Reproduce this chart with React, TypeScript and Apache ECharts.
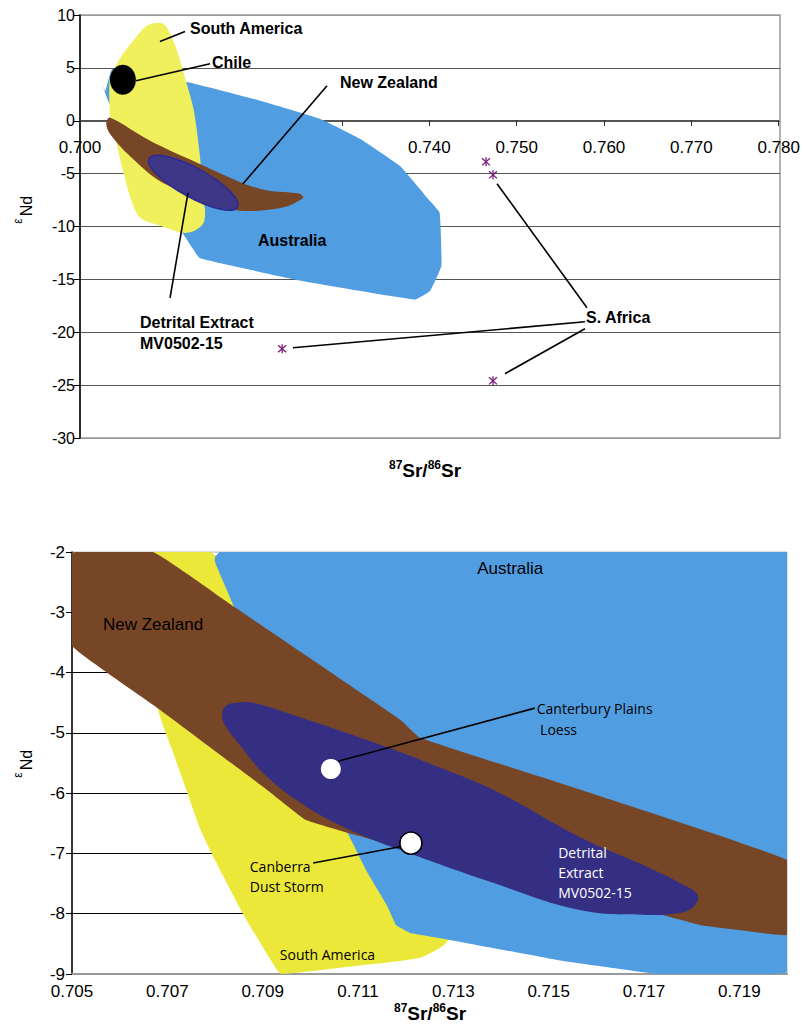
import React, { useEffect, useRef } from "react";
import * as echarts from "echarts";

// ---------- Upper panel: full-range 87Sr/86Sr vs εNd ----------
const australiaWide: number[][] = [
  [0.7029, 2.8], [0.7037, 4.9], [0.7126, 3.6], [0.7206, 1.9], [0.7274, 0.2],
  [0.732, -1.7], [0.7366, -4.3], [0.74, -7.6], [0.7411, -8.7], [0.7413, -13.7],
  [0.74, -16.1], [0.7383, -16.9], [0.7251, -15.1], [0.7137, -13.0], [0.7129, -12.1],
  [0.7114, -10.2], [0.7091, -6.6], [0.7046, 0], [0.7032, 1.9], [0.7026, 3.3],
];
const southAmericaWide: number[][] = [
  [0.7034, 0.8], [0.7034, 4.0], [0.7039, 4.9], [0.7048, 6.2], [0.7061, 7.6],
  [0.7077, 9.0], [0.7095, 9.2], [0.7103, 8.2], [0.7111, 6.6], [0.7122, 3.5],
  [0.713, 1.0], [0.7137, -3.3], [0.7141, -7.6], [0.7143, -8.5], [0.7141, -9.7],
  [0.7131, -10.4], [0.7118, -10.6], [0.7091, -9.9], [0.7069, -9.2], [0.7059, -7.6],
  [0.7048, -4.4], [0.7041, -1.9], [0.7036, -0.5],
];
const newZealandWide: number[][] = [
  [0.7034, 0.3], [0.708, -1.9], [0.7137, -4.1], [0.7186, -5.9], [0.7214, -6.6],
  [0.7251, -6.9], [0.7255, -7.3], [0.7232, -8.2], [0.7183, -8.5], [0.7137, -7.3],
  [0.7091, -5.7], [0.7054, -3.1], [0.7034, -1.2], [0.703, -0.3],
];
// Detrital extract field: ends of the long axis, and short/long axis ratio
const detritalAxisWide: number[][] = [[0.7079, -3.57], [0.718, -8.16]];
const detritalRatioWide = 0.29;
const chileWide: number[][] = [[0.7049, 3.88]];
const southAfricaWide: number[][] = [
  [0.7464, -3.88], [0.7472, -5.11], [0.7231, -21.56], [0.7472, -24.59],
];
// leader lines: [x1, y1, x2, y2]
const leadersWide: number[][] = [
  [0.70914, 7.5, 0.712, 8.44],
  [0.7064, 3.78, 0.71486, 5.39],
  [0.71863, -5.96, 0.72823, 3.31],
  [0.71234, -6.81, 0.71029, -16.74],
  [0.74766, -5.96, 0.75794, -17.68],
  [0.72434, -21.47, 0.75771, -19.01],
  [0.74857, -23.92, 0.75771, -19.67],
];
const labelTextWide = [
  "South America", "Chile", "New Zealand", "Australia",
  "Detrital Extract\nMV0502-15", "S. Africa",
];
const labelPosWide: number[][] = [
  [0.71257, 8.7], [0.71509, 5.48], [0.72971, 3.59], [0.72034, -11.35],
  [0.70686, -20.05], [0.75783, -18.63],
];

// ---------- Lower panel: close-up ----------
const australiaZoom: number[][] = [
  [0.7081, -2.0], [0.72, -2.0], [0.72, -8.97], [0.719, -9.0], [0.7173, -9.0],
  [0.7152, -8.77], [0.7129, -8.43], [0.7121, -8.32], [0.7118, -8.19],
  [0.7116, -7.85], [0.7112, -7.32], [0.7108, -6.69], [0.7098, -5.12],
  [0.7089, -3.79], [0.7084, -2.91], [0.708, -2.17], [0.708, -2.08],
];
const southAmericaZoom: number[][] = [
  [0.7067, -2.0], [0.7079, -2.0], [0.7098, -3.46], [0.7115, -5.45],
  [0.7127, -7.27], [0.7131, -8.19], [0.7128, -8.52], [0.7123, -8.73],
  [0.7108, -8.88], [0.7094, -9.0], [0.7093, -8.93], [0.7086, -8.02],
  [0.708, -7.11], [0.7077, -6.61], [0.7074, -5.95], [0.7071, -5.28],
  [0.7068, -4.59], [0.7067, -3.46],
];
const newZealandZoom: number[][] = [
  [0.70496, -2.02], [0.7067, -2.0], [0.7084, -2.91], [0.7119, -4.79],
  [0.7123, -5.08], [0.7157, -5.95], [0.72, -7.11], [0.72, -7.77],
  [0.72, -8.35], [0.719, -8.27], [0.7182, -8.19], [0.7173, -8.0],
  [0.7152, -7.52], [0.7129, -6.98], [0.7115, -6.81], [0.7108, -6.66],
  [0.7099, -6.44], [0.7091, -5.95], [0.7068, -4.59], [0.705, -3.56],
  [0.70496, -2.8],
];
const detritalZoom: number[][] = [
  [0.70815, -4.67], [0.70825, -4.54], [0.70846, -4.5], [0.7088, -4.5],
  [0.70978, -4.74], [0.71119, -5.12], [0.71257, -5.53], [0.71398, -6.0],
  [0.71566, -6.73], [0.71706, -7.22], [0.71775, -7.49], [0.71813, -7.69],
  [0.71803, -7.89], [0.71775, -7.99], [0.71706, -8.02], [0.71566, -7.94],
  [0.71377, -7.47], [0.71188, -6.94], [0.71083, -6.61], [0.70993, -6.23],
  [0.70909, -5.73], [0.70852, -5.2], [0.70821, -4.87],
];
const samplesZoom: number[][] = [[0.71043, -5.6], [0.71211, -6.83]];
const leadersZoom: number[][] = [
  [0.71058, -5.47, 0.71471, -4.59],
  [0.71188, -6.89, 0.71006, -7.16],
];
const labelTextZoom = [
  "Australia", "New Zealand", "Canterbury Plains", "Loess",
  "Canberra\nDust Storm", "Detrital\nExtract\nMV0502-15", "South America",
];
const labelPosZoom: number[][] = [
  [0.7135, -2.28], [0.70565, -3.21], [0.71475, -4.6], [0.71482, -4.95],
  [0.70873, -7.39], [0.7152, -7.32], [0.70936, -8.67],
];

const ARIAL = '"Liberation Sans", Arial, sans-serif';
const MYRIAD = '"Open Sans", "Noto Sans", sans-serif';

const YELLOW_WIDE = "#f0ef5c";
const YELLOW_ZOOM = "#ebe83a";
const BLUE = "#519de1";
const BROWN = "#774626";
const PURPLE = "#352f84";

function polygonSeries(points: number[][], grid: number, fill: string, z: number, smooth = 0, clip = false) {
  return {
    type: "custom",
    xAxisIndex: grid,
    yAxisIndex: grid,
    z,
    clip,
    silent: true,
    data: points,
    encode: { x: 0, y: 1 },
    renderItem: (params: any, api: any) => {
      if (params.dataIndex !== 0) return null;
      const pts = points.map((p) => api.coord(p));
      return {
        type: "polygon",
        shape: { points: pts, smooth },
        style: { fill },
      };
    },
  };
}

function ellipseSeries(axis: number[][], ratio: number, grid: number, fill: string, stroke: string, z: number) {
  return {
    type: "custom",
    xAxisIndex: grid,
    yAxisIndex: grid,
    z,
    silent: true,
    data: axis,
    encode: { x: 0, y: 1 },
    renderItem: (params: any, api: any) => {
      if (params.dataIndex !== 0) return null;
      const a = api.coord(axis[0]);
      const b = api.coord(axis[1]);
      const rx = Math.hypot(b[0] - a[0], b[1] - a[1]) / 2;
      const ang = Math.atan2(b[1] - a[1], b[0] - a[0]);
      return {
        type: "ellipse",
        x: (a[0] + b[0]) / 2,
        y: (a[1] + b[1]) / 2,
        rotation: -ang,
        shape: { cx: 0, cy: 0, rx, ry: rx * ratio },
        style: { fill, stroke, lineWidth: 1.5 },
      };
    },
  };
}

function leaderSeries(rows: number[][], grid: number, z: number) {
  return {
    type: "custom",
    xAxisIndex: grid,
    yAxisIndex: grid,
    z,
    silent: true,
    data: rows,
    dimensions: ["x1", "y1", "x2", "y2"],
    encode: { x: [0, 2], y: [1, 3] },
    renderItem: (params: any, api: any) => {
      const p1 = api.coord([api.value(0), api.value(1)]);
      const p2 = api.coord([api.value(2), api.value(3)]);
      return {
        type: "line",
        shape: { x1: p1[0], y1: p1[1], x2: p2[0], y2: p2[1] },
        style: { stroke: "#000", lineWidth: 1.6 },
      };
    },
  };
}

function labelSeries(pos: number[][], texts: string[], grid: number, z: number, styleFor: (i: number) => any) {
  return {
    type: "custom",
    xAxisIndex: grid,
    yAxisIndex: grid,
    z,
    silent: true,
    data: pos,
    encode: { x: 0, y: 1 },
    renderItem: (params: any, api: any) => {
      const p = api.coord([api.value(0), api.value(1)]);
      return {
        type: "text",
        x: p[0],
        y: p[1],
        style: {
          text: texts[params.dataIndex],
          align: "left",
          verticalAlign: "middle",
          ...styleFor(params.dataIndex),
        },
      };
    },
  };
}

function asteriskSeries(points: number[][], grid: number, z: number) {
  return {
    type: "custom",
    xAxisIndex: grid,
    yAxisIndex: grid,
    z,
    silent: true,
    data: points,
    encode: { x: 0, y: 1 },
    renderItem: (params: any, api: any) => {
      const [px, py] = api.coord([api.value(0), api.value(1)]);
      const st = { stroke: "#7a1a78", lineWidth: 1.3 };
      return {
        type: "group",
        children: [
          { type: "line", shape: { x1: px, y1: py - 4.5, x2: px, y2: py + 4.5 }, style: st },
          { type: "line", shape: { x1: px - 4, y1: py - 3.6, x2: px + 4, y2: py + 3.6 }, style: st },
          { type: "line", shape: { x1: px - 4, y1: py + 3.6, x2: px + 4, y2: py - 3.6 }, style: st },
        ],
      };
    },
  };
}

function srTitle(x: number, y: number) {
  return {
    type: "text",
    x,
    y,
    style: {
      text: "{s|87}{m|Sr/}{s|86}{m|Sr}",
      align: "center",
      verticalAlign: "middle",
      fill: "#000",
      rich: {
        m: { fontSize: 19, fontWeight: "bold", fontFamily: ARIAL, lineHeight: 22, fill: "#000" },
        s: { fontSize: 12, fontWeight: "bold", fontFamily: ARIAL, lineHeight: 12, verticalAlign: "top", fill: "#000" },
      },
    },
  };
}

// εNd written bottom-to-top, with the small ε sitting toward the left
function epsTitle(x: number, y: number) {
  return {
    type: "group",
    children: [
      {
        type: "text",
        x: x + 2,
        y: y - 5,
        rotation: Math.PI / 2,
        style: { text: "Nd", fontSize: 16, fontFamily: ARIAL, fill: "#000", align: "center", verticalAlign: "middle" },
      },
      {
        type: "text",
        x: x - 6,
        y: y + 10,
        rotation: Math.PI / 2,
        style: { text: "ε", fontSize: 12, fontFamily: ARIAL, fill: "#000", align: "center", verticalAlign: "middle" },
      },
    ],
  };
}

export default function App() {
  const ref = useRef<HTMLDivElement>(null);

  useEffect(() => {
    document.body.style.margin = "0";
    if (!ref.current) return;
    const chart = echarts.init(ref.current, undefined, { renderer: "svg" });

    const wideGridLines = ["#999", "#555", "#555", "#555", "#555", "#555", "#555", "#555", "#999"];
    const zoomGridLines = ["#999", "#000", "#000", "#000", "#000", "#000", "#000", "#ccc"];

    chart.setOption({
      animation: false,
      backgroundColor: "#fff",
      grid: [
        { left: 80, top: 15, width: 700, height: 423, show: true, borderColor: "#999", borderWidth: 1.5 },
        { left: 72, top: 552, width: 715, height: 422, show: true, borderColor: "#bbb", borderWidth: 1 },
        // lower half of the upper panel: carries the Sr axis drawn along εNd = 0
        { left: 80, top: 120, width: 700, height: 318, show: false },
      ],
      xAxis: [
        {
          gridIndex: 0,
          type: "value",
          min: 0.7,
          max: 0.78,
          interval: 0.01,
          show: false,
          splitLine: { show: false },
        },
        {
          gridIndex: 1,
          type: "value",
          min: 0.705,
          max: 0.72,
          interval: 0.001,
          axisLine: { onZero: false, lineStyle: { color: "#999", width: 2 } },
          axisTick: { show: false },
          axisLabel: {
            formatter: (v: number) => (Math.round(v * 1000) % 2 === 1 ? v.toFixed(3) : ""),
            fontSize: 17,
            fontFamily: ARIAL,
            color: "#000",
            margin: 9,
          },
          splitLine: { show: false },
        },
        {
          gridIndex: 2,
          type: "value",
          position: "top",
          min: 0.7,
          max: 0.78,
          interval: 0.01,
          axisLine: { show: true, onZero: false, lineStyle: { color: "#555", width: 1.2 } },
          axisTick: { show: true, inside: true, length: 6, lineStyle: { color: "#333" } },
          axisLabel: {
            inside: true,
            formatter: (v: number) => v.toFixed(3),
            fontSize: 17,
            fontFamily: ARIAL,
            color: "#000",
            margin: 19,
          },
          splitLine: { show: false },
        },
      ],
      yAxis: [
        {
          gridIndex: 0,
          type: "value",
          min: -30,
          max: 10,
          interval: 5,
          axisLine: { show: true, onZero: false, lineStyle: { color: "#000", width: 1.5 } },
          axisTick: { show: true, length: 6, lineStyle: { color: "#000" } },
          axisLabel: { fontSize: 16, fontFamily: ARIAL, color: "#000", margin: 5 },
          splitLine: { show: true, lineStyle: { color: wideGridLines, width: 1.2 } },
        },
        {
          gridIndex: 1,
          type: "value",
          min: -9,
          max: -2,
          interval: 1,
          axisLine: { show: true, onZero: false, lineStyle: { color: "#000", width: 1.5 } },
          axisTick: { show: true, length: 6, lineStyle: { color: "#000" } },
          axisLabel: { fontSize: 17, fontFamily: ARIAL, color: "#000", margin: 7 },
          splitLine: { show: true, lineStyle: { color: zoomGridLines, width: 1.2 } },
        },
        { gridIndex: 2, type: "value", min: -30, max: 0, show: false, splitLine: { show: false } },
      ],
      series: [
        // upper panel
        polygonSeries(australiaWide, 0, BLUE, 3, 0.1),
        polygonSeries(southAmericaWide, 0, YELLOW_WIDE, 4, 0.3),
        polygonSeries(newZealandWide, 0, BROWN, 5, 0.3),
        ellipseSeries(detritalAxisWide, detritalRatioWide, 0, "#3e3687", "#2b2a96", 6),
        {
          type: "scatter",
          xAxisIndex: 0,
          yAxisIndex: 0,
          z: 7,
          silent: true,
          symbol: "circle",
          symbolSize: [26, 30],
          itemStyle: { color: "#000", opacity: 1 },
          data: chileWide,
        },
        asteriskSeries(southAfricaWide, 0, 7),
        leaderSeries(leadersWide, 0, 8),
        labelSeries(labelPosWide, labelTextWide, 0, 9, () => ({
          fill: "#000",
          font: `bold 16px ${ARIAL}`,
          lineHeight: 21,
        })),
        // lower panel
        polygonSeries(southAmericaZoom, 1, YELLOW_ZOOM, 3, 0.2, true),
        polygonSeries(australiaZoom, 1, BLUE, 4, 0.05, true),
        polygonSeries(newZealandZoom, 1, BROWN, 5, 0.1, true),
        polygonSeries(detritalZoom, 1, PURPLE, 6, 0.4),
        leaderSeries(leadersZoom, 1, 7),
        {
          type: "scatter",
          xAxisIndex: 1,
          yAxisIndex: 1,
          z: 8,
          silent: true,
          symbol: "circle",
          data: [
            { value: samplesZoom[0], symbolSize: 20, itemStyle: { color: "#fff", opacity: 1, borderColor: "#fff", borderWidth: 0 } },
            { value: samplesZoom[1], symbolSize: 22, itemStyle: { color: "#fff", opacity: 1, borderColor: "#000", borderWidth: 1.6 } },
          ],
        },
        labelSeries(labelPosZoom, labelTextZoom, 1, 9, (i: number) => {
          if (i <= 1) return { fill: "#000", font: `17px ${ARIAL}` };
          if (i === 5) return { fill: "#fff", font: `14px ${MYRIAD}`, lineHeight: 20 };
          return { fill: "#000", font: `14px ${MYRIAD}`, lineHeight: 20 };
        }),
      ],
      graphic: [srTitle(425, 470), epsTitle(24, 211), srTitle(430, 1013), epsTitle(24, 765)],
    });

    return () => chart.dispose();
  }, []);

  return <div ref={ref} style={{ width: 803, height: 1027 }} />;
}
